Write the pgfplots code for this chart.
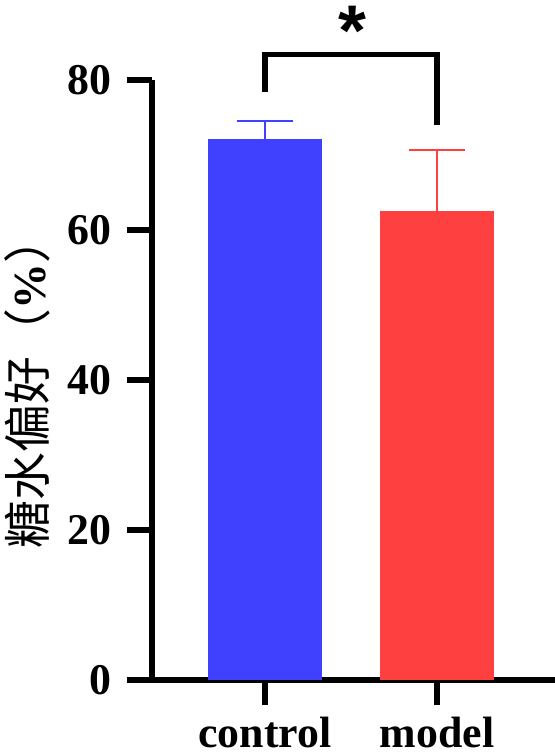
\documentclass[border=0pt]{standalone}
\usepackage{pgfplots}
\pgfplotsset{compat=1.18}
\usepackage{fontspec}
\setmainfont{Liberation Serif}
\newfontfamily\cjk{Noto Sans CJK SC}
\newfontfamily\starfont{Liberation Sans}
\definecolor{cblue}{HTML}{4040FF}
\definecolor{cred}{HTML}{FF4040}
\begin{document}
\begin{tikzpicture}
\path[use as bounding box] (0,0) rectangle (555bp,753bp);
\begin{axis}[
  at={(152bp,73bp)}, anchor=south west,
  scale only axis, width=403bp, height=600bp,
  xmin=-0.657, xmax=1.686, ymin=0, ymax=80,
  axis lines=left,
  axis line style={-, line width=6bp, black},
  ytick={0,20,40,60,80},
  xtick={0,1}, xticklabels={control,model},
  tick align=outside, major tick length=25bp,
  tick style={line width=6bp, black},
  /pgf/number format/assume math mode=true,
  ticklabel style={font=\bfseries\fontsize{44}{44}\selectfont},
  yticklabel style={xshift=-12bp},
  xticklabel style={anchor=base, yshift=-42bp},
  every axis y label/.style={at={(rel axis cs:-0.31,0.497)}, rotate=90, anchor=center},
  ylabel={{\cjk\fontsize{48}{48}\selectfont 糖水偏好（}{\bfseries\fontsize{46}{46}\selectfont\%}{\cjk\fontsize{48}{48}\selectfont ）}},
  clip=false,
]
\addplot[ybar, bar width=114bp, bar shift=0pt, fill=cblue, draw=none,
  error bars/.cd, y dir=plus, y explicit,
  error bar style={cblue, line width=2.5bp},
  error mark options={cblue, line width=2.5bp, mark size=28bp, rotate=90}]
  coordinates {(0,72.07) +- (0,2.47)};
\addplot[ybar, bar width=114bp, bar shift=0pt, fill=cred, draw=none,
  error bars/.cd, y dir=plus, y explicit,
  error bar style={cred, line width=2.5bp},
  error mark options={cred, line width=2.5bp, mark size=28bp, rotate=90}]
  coordinates {(1,62.53) +- (0,8.13)};
\addplot[black, line width=5.5bp, line join=miter, mark=none]
  coordinates {(0,78.4) (0,83.4) (1,83.4) (1,74.0)};
\node[font=\starfont\bfseries\fontsize{72}{72}\selectfont, anchor=base, inner sep=0pt]
  at (axis cs:0.51,83.2) {*};
\end{axis}
\end{tikzpicture}
\end{document}
